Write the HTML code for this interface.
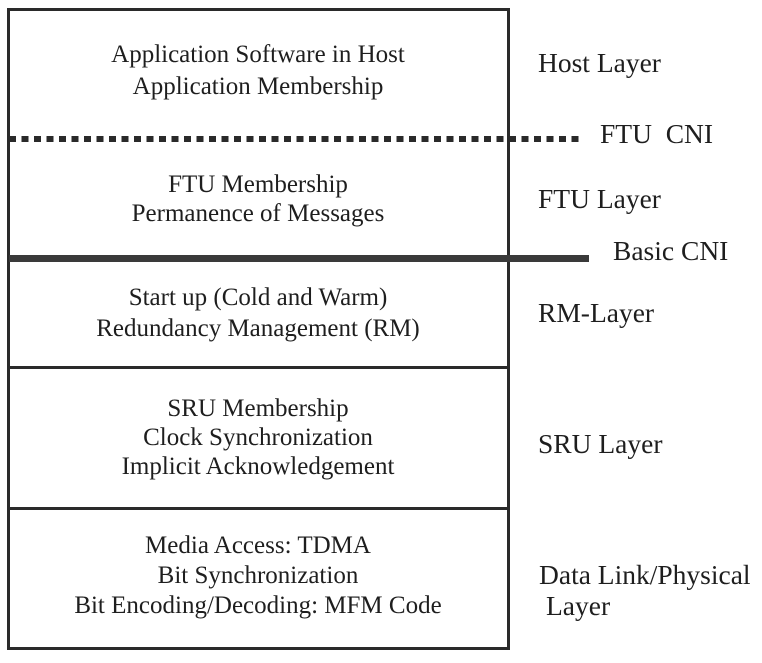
<!DOCTYPE html>
<html><head><meta charset="utf-8"><style>
body{margin:0;width:762px;height:663px;background:#fff;position:relative;overflow:hidden;font-family:"Liberation Serif",serif;color:#1e1e1e}
.t{position:absolute;font-size:25px;line-height:30px;white-space:nowrap}
.c{left:8px;width:500px;text-align:center}
.r{font-size:27.5px}
.b{position:absolute;background:#2a2a2a}
</style></head><body>
<div class="b" style="left:7px;top:8px;width:502px;height:3px"></div>
<div class="b" style="left:7px;top:8px;width:3px;height:642px"></div>
<div class="b" style="left:507px;top:8px;width:3px;height:642px"></div>
<div class="b" style="left:7px;top:647px;width:503px;height:3px"></div>
<div class="b" style="left:7px;top:366px;width:503px;height:3px"></div>
<div class="b" style="left:7px;top:507px;width:503px;height:3px"></div>
<div style="position:absolute;left:9px;top:136px;width:572px;height:6px;background:repeating-linear-gradient(90deg,#2a2a2a 0 7px,transparent 7px 12.5px)"></div>
<div class="b" style="left:9px;top:255px;width:580px;height:7px;background:#3a3a3a"></div>

<div class="t c" style="top:40px">Application Software in Host</div>
<div class="t c" style="top:72px">Application Membership</div>
<div class="t c" style="top:170px">FTU Membership</div>
<div class="t c" style="top:199px">Permanence of Messages</div>
<div class="t c" style="top:283px">Start up (Cold and Warm)</div>
<div class="t c" style="top:314px">Redundancy Management (RM)</div>
<div class="t c" style="top:394px">SRU Membership</div>
<div class="t c" style="top:423px">Clock Synchronization</div>
<div class="t c" style="top:452px">Implicit Acknowledgement</div>
<div class="t c" style="top:531px">Media Access: TDMA</div>
<div class="t c" style="top:561px">Bit Synchronization</div>
<div class="t c" style="top:591px">Bit Encoding/Decoding: MFM Code</div>

<div class="t r" style="left:538px;top:48px">Host Layer</div>
<div class="t r" style="left:600px;top:119px">FTU&nbsp; CNI</div>
<div class="t r" style="left:538px;top:184px">FTU Layer</div>
<div class="t r" style="left:613px;top:236px">Basic CNI</div>
<div class="t r" style="left:538px;top:298px">RM-Layer</div>
<div class="t r" style="left:538px;top:429px">SRU Layer</div>
<div class="t r" style="left:539px;top:560px">Data Link/Physical</div>
<div class="t r" style="left:546px;top:591px">Layer</div>
</body></html>
